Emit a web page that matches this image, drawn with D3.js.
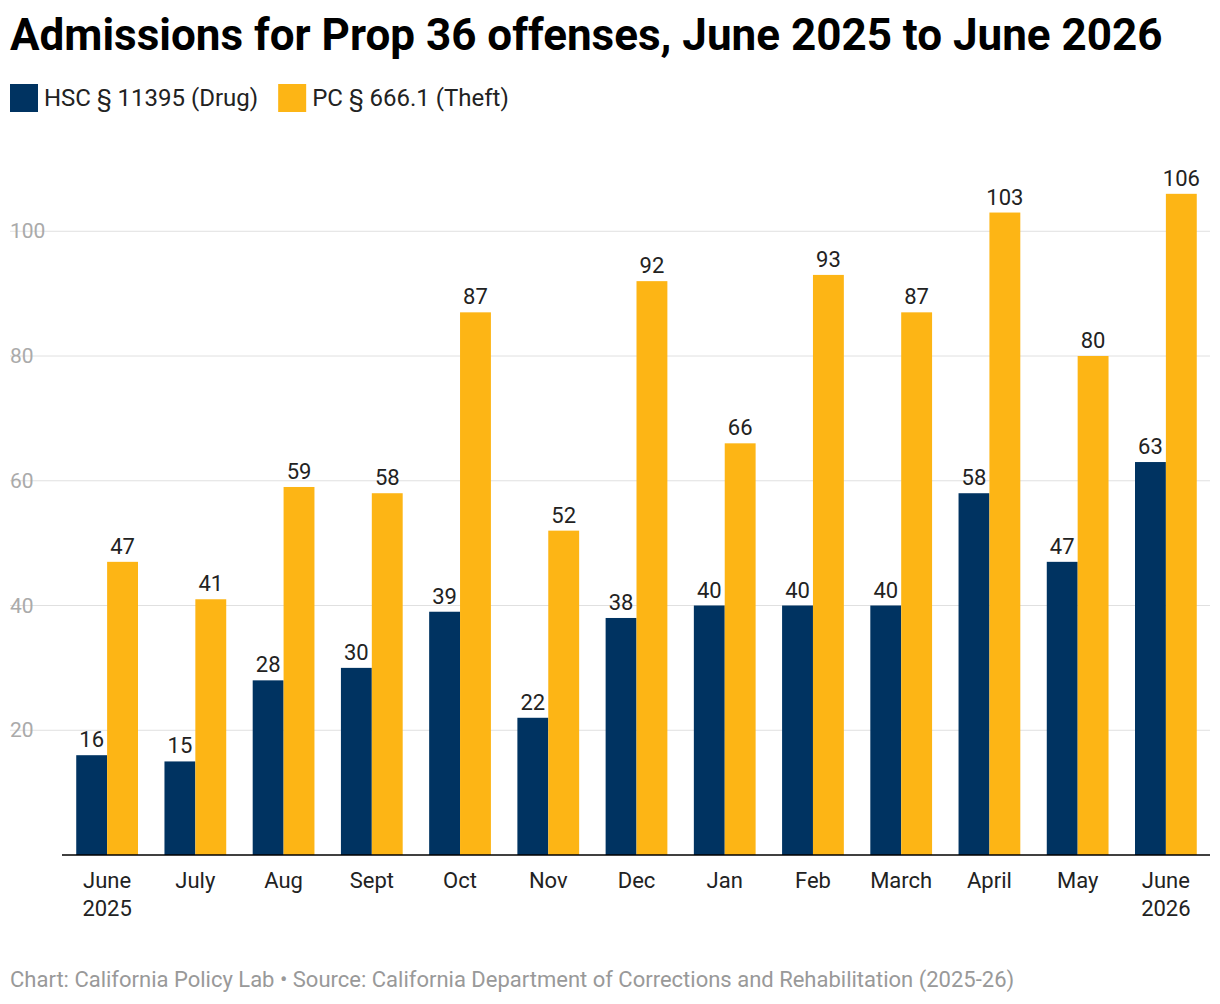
<!DOCTYPE html>
<html><head><meta charset="utf-8">
<script src="https://cdn.jsdelivr.net/npm/d3@7"></script>
<style>body{margin:0;background:#fff;font-family:Roboto,sans-serif;}</style>
</head><body><svg id="chart" width="1220" height="1004"></svg>
<script>
const months = [["June","2025"],["July"],["Aug"],["Sept"],["Oct"],["Nov"],["Dec"],["Jan"],["Feb"],["March"],["April"],["May"],["June","2026"]];
const drug = [16,15,28,30,39,22,38,40,40,40,58,47,63];
const theft = [47,41,59,58,87,52,92,66,93,87,103,80,106];
const yTicks = [20,40,60,80,100];
const seriesNames = ["HSC § 11395 (Drug)","PC § 666.1 (Theft)"];
const colors = ["#003361","#fdb515"];

const svg = d3.select('#chart');
svg.append('text').attr('x',10).attr('y',50).attr('font-size',44).attr('font-weight',700).attr('fill','#000')
  .text('Admissions for Prop 36 offenses, June 2025 to June 2026');

// legend
let lx = 10;
seriesNames.forEach((n,i)=>{
  svg.append('rect').attr('x',lx).attr('y',84).attr('width',28).attr('height',28).attr('fill',colors[i]);
  const t = svg.append('text').attr('x',lx+34).attr('y',106).attr('font-size',24).attr('fill','#222').text(n);
  lx += 34 + t.node().getComputedTextLength() + 20;
});

const x = d3.scaleBand().domain(d3.range(months.length)).range([63,1210]).paddingInner(0.3).paddingOuter(0.15);
const y = d3.scaleLinear().domain([0,100]).range([855,231.25]);

yTicks.forEach(v=>{
  svg.append('line').attr('x1',10).attr('x2',1210).attr('y1',y(v)).attr('y2',y(v)).attr('stroke','#e0e0e0');
  svg.append('text').attr('x',10).attr('y',y(v)+7).attr('font-size',21).attr('fill','#aaa').text(v);
});

const bw = x.bandwidth()/2;
[drug,theft].forEach((arr,s)=>{
  arr.forEach((v,i)=>{
    const bx = x(i)+s*bw;
    svg.append('rect').attr('x',bx).attr('y',y(v)).attr('width',bw).attr('height',y(0)-y(v)).attr('fill',colors[s]);
    svg.append('text').attr('x',bx+bw/2).attr('y',y(v)-8).attr('text-anchor','middle').attr('font-size',22).attr('fill','#222').text(v);
  });
});

svg.append('line').attr('x1',62).attr('x2',1210).attr('y1',y(0)).attr('y2',y(0)).attr('stroke','#000').attr('stroke-width',1.5);

months.forEach((m,i)=>{
  m.forEach((line,j)=>{
    svg.append('text').attr('x',x(i)+x.bandwidth()/2).attr('y',888+j*28).attr('text-anchor','middle')
      .attr('font-size',22).attr('fill','#222').text(line);
  });
});

svg.append('text').attr('x',10).attr('y',987).attr('font-size',22).attr('fill','#999')
  .text('Chart: California Policy Lab • Source: California Department of Corrections and Rehabilitation (2025-26)');
</script></body></html>
